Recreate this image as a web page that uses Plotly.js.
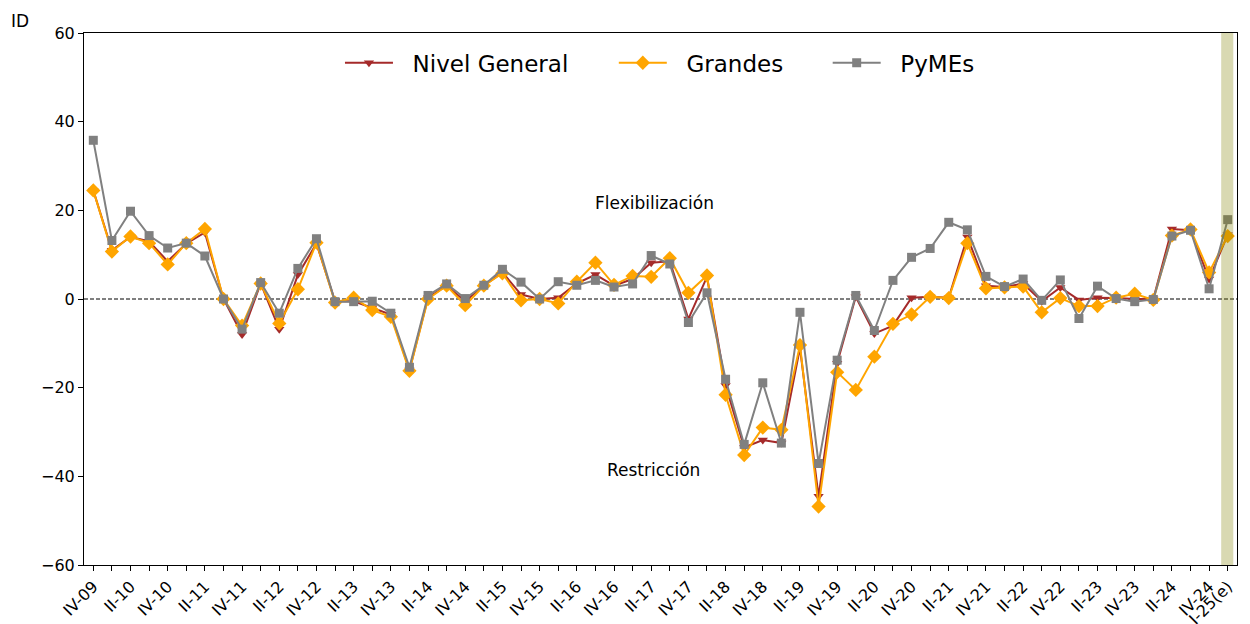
<!DOCTYPE html>
<html>
<head>
<meta charset="utf-8">
<script src="https://cdn.plot.ly/plotly-3.0.1.min.js"></script>
<style>html,body{margin:0;padding:0;background:#fff;}#chart{width:1250px;height:624px;}</style>
</head>
<body>
<div id="chart"></div>
<script>
const quarters = ["IV-09","I-10","II-10","III-10","IV-10","I-11","II-11","III-11","IV-11","I-12","II-12","III-12","IV-12","I-13","II-13","III-13","IV-13","I-14","II-14","III-14","IV-14","I-15","II-15","III-15","IV-15","I-16","II-16","III-16","IV-16","I-17","II-17","III-17","IV-17","I-18","II-18","III-18","IV-18","I-19","II-19","III-19","IV-19","I-20","II-20","III-20","IV-20","I-21","II-21","III-21","IV-21","I-22","II-22","III-22","IV-22","I-23","II-23","III-23","IV-23","I-24","II-24","III-24","IV-24","I-25(e)"];
const tickLabels = ["IV-09","","II-10","","IV-10","","II-11","","IV-11","","II-12","","IV-12","","II-13","","IV-13","","II-14","","IV-14","","II-15","","IV-15","","II-16","","IV-16","","II-17","","IV-17","","II-18","","IV-18","","II-19","","IV-19","","II-20","","IV-20","","II-21","","IV-21","","II-22","","IV-22","","II-23","","IV-23","","II-24","","IV-24","I-25(e)"];
const seriesNames = ["Nivel General", "Grandes", "PyMEs"];
const nivelGeneral = [24.5,11,14,13,8.5,12.5,15,0,-8,3.5,-6.8,5.5,12.5,-0.5,-0.5,-2,-3.5,-16,0.3,3,-0.5,3,6,1,0,0.3,3.5,5.5,3,4.5,8.2,8.5,-4.5,5,-19.5,-33.5,-31.8,-32.5,-11,-44.5,-14.5,0.5,-7.8,-6,0.3,0.5,0.3,14,3,2.7,3.5,-0.5,2.6,-0.2,0.3,0.2,0,0,15.8,15.5,4.5,14.5];
const grandes = [24.5,10.7,14.1,12.6,7.8,12.6,15.8,0,-6,3.5,-5.5,2.2,12.7,-0.8,0.3,-2.5,-4,-16.2,0,3,-1.4,3,5.8,-0.3,0,-1,3.9,8.2,3.2,5.2,5,9.2,1.4,5.3,-21.6,-35.2,-29,-29.5,-10.4,-46.8,-16.5,-20.5,-13,-5.6,-3.5,0.5,0.2,12.6,2.4,2.6,2.8,-3,0.2,-1.6,-1.6,0.3,1.2,-0.2,14.3,15.7,6,14.2];
const pymes = [35.8,13.2,19.8,14.3,11.5,12.6,9.7,0,-6.8,3.7,-3.2,6.9,13.6,-0.6,-0.6,-0.5,-3.2,-15.4,0.8,3.4,0.1,3.1,6.7,3.8,0,3.9,3.1,4.2,2.7,3.4,9.8,7.9,-5.3,1.4,-18.1,-32.8,-18.9,-32.5,-3,-37.1,-13.8,0.8,-7.1,4.2,9.4,11.4,17.3,15.6,5.1,2.8,4.5,-0.3,4.3,-4.4,2.9,0.1,-0.6,-0.1,14.2,15.5,2.3,17.9];
const xs = quarters.map((q, i) => i);
const pad = "\u00a0\u00a0";

const traces = [
  {x: xs, y: nivelGeneral, name: pad + seriesNames[0], mode: "lines+markers", text: quarters, legend: "legend",
   line: {color: "#a52a2a", width: 2}, marker: {symbol: "triangle-down", size: 9, color: "#a52a2a"}},
  {x: xs, y: grandes, name: pad + seriesNames[1], mode: "lines+markers", text: quarters, legend: "legend2",
   line: {color: "#ffa500", width: 2}, marker: {symbol: "diamond", size: 11, color: "#ffa500"}},
  {x: xs, y: pymes, name: pad + seriesNames[2], mode: "lines+markers", text: quarters, legend: "legend3",
   line: {color: "#808080", width: 2}, marker: {symbol: "square", size: 9, color: "#808080"}}
];

const legBase = {yanchor: "middle", y: 0.944, xanchor: "left", font: {size: 23},
                 bgcolor: "rgba(0,0,0,0)", itemwidth: 48, orientation: "h"};

const layout = {
  width: 1250, height: 624,
  margin: {l: 84, r: 13, t: 33, b: 59},
  paper_bgcolor: "#fff", plot_bgcolor: "#fff",
  font: {family: "DejaVu Sans", size: 16, color: "#000"},
  showlegend: true,
  legend: Object.assign({}, legBase, {x: 0.222}),
  legend2: Object.assign({}, legBase, {x: 0.4595}),
  legend3: Object.assign({}, legBase, {x: 0.645}),
  xaxis: {range: [-0.5, 61.5], tickmode: "array", tickvals: xs, ticktext: tickLabels,
          tickangle: -45, ticks: "outside", ticklen: 5, tickcolor: "#000", showgrid: false, zeroline: false,
          showline: true, linecolor: "#000", linewidth: 1, mirror: true, tickfont: {size: 16}},
  yaxis: {range: [-60, 60], dtick: 20, ticks: "outside", ticklen: 5, tickcolor: "#000", showgrid: false,
          zeroline: false, showline: true, linecolor: "#000", linewidth: 1, mirror: true, tickfont: {size: 16}},
  shapes: [
    {type: "line", xref: "paper", x0: 0, x1: 1, yref: "y", y0: 0, y1: 0,
     line: {color: "#000", width: 1, dash: "4px,2px"}, layer: "below"},
    {type: "rect", xref: "x", x0: 60.65, x1: 61.3, yref: "paper", y0: 0, y1: 1,
     fillcolor: "rgba(128,128,0,0.3)", line: {width: 0}, layer: "above"}
  ],
  annotations: [
    {text: "Flexibilización", xref: "paper", yref: "y", x: 0.495, y: 21.6, showarrow: false, font: {size: 17}},
    {text: "Restricción", xref: "paper", yref: "y", x: 0.494, y: -38.5, showarrow: false, font: {size: 17}},
    {text: "ID", xref: "paper", yref: "paper", x: -0.065, y: 1.045, showarrow: false, font: {size: 17}}
  ]
};

Plotly.newPlot("chart", traces, layout, {displayModeBar: false, staticPlot: true});
</script>
</body>
</html>
